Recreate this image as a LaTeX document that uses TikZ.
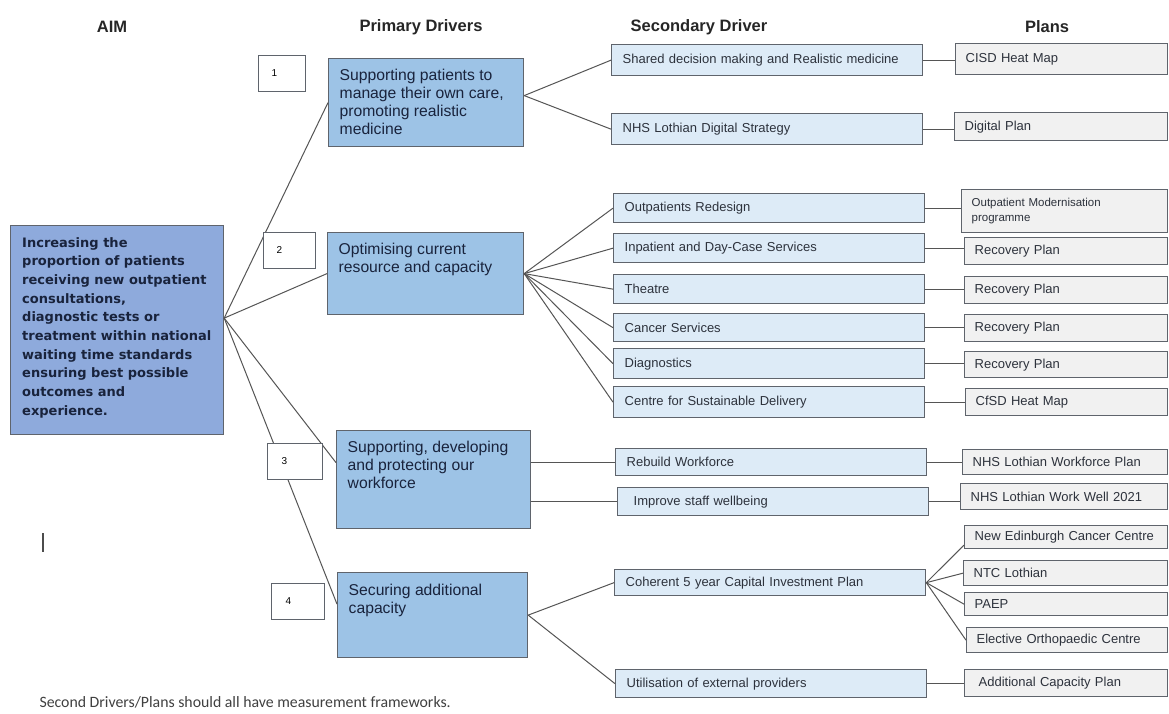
\documentclass[tikz,border=0pt]{standalone}
\usepackage{fontspec}
\setmainfont{Liberation Sans}
\newfontfamily\aimfont{DejaVu Sans}
\newfontfamily\notefont{Carlito}

\definecolor{aimblue}{RGB}{142,170,220}
\definecolor{pblue}{RGB}{157,195,230}
\definecolor{sblue}{RGB}{221,235,247}
\definecolor{plgray}{RGB}{241,241,241}
\definecolor{boxline}{RGB}{95,100,108}
\definecolor{linkgray}{RGB}{85,85,85}
\definecolor{navytext}{RGB}{25,35,60}
\definecolor{darktext}{RGB}{45,50,60}

\tikzset{
  head/.style={font=\bfseries\fontsize{16.5}{19}\selectfont, text=black!85},
  aimbox/.style={draw=boxline, fill=aimblue, line width=1.2pt, anchor=north west},
  aimtxt/.style={anchor=north west, align=left, inner xsep=12pt, inner ysep=12pt, text=navytext, font=\aimfont\bfseries\fontsize{13}{18.7}\selectfont},
  pbox/.style={draw=boxline, fill=pblue, line width=1.2pt, anchor=north west},
  ptxt/.style={anchor=north west, align=left, inner xsep=11.5pt, inner ysep=10.5pt, text=navytext, font=\fontsize{15.7}{18}\selectfont},
  numbox/.style={draw=boxline, fill=white, line width=1pt, anchor=north west, inner xsep=13pt, minimum height=36pt, align=left, font=\fontsize{10}{11}\selectfont},
  sbox/.style={draw=boxline, fill=sblue, line width=1.3pt, anchor=north west, inner xsep=11pt, inner ysep=0pt, text width=289pt, align=left, text=darktext, font=\fontsize{13}{15}\selectfont},
  lbox/.style={draw=boxline, fill=plgray, line width=1.3pt, anchor=north west, inner xsep=10pt, inner ysep=0pt, align=left, text=darktext, font=\fontsize{13}{15}\selectfont},
  link/.style={draw=linkgray, line width=1pt}
}

\begin{document}
\begin{tikzpicture}[x=1pt,y=-1pt]
\useasboundingbox (0,0) rectangle (1169,713);
\fill[white] (0,0) rectangle (1169,713);

% column heads
\node[head] (haim) at (112,27) {AIM};
\node[head] (hprim) at (421,27) {Primary Drivers};
\node[head] (hsec) at (699,27) {Secondary Driver};
\node[head] (hplan) at (1047,27) {Plans};

% aim
\node[aimbox, minimum width=213pt, minimum height=209pt] (aim) at (10,225) {};
\node[aimtxt] (aimt) at (aim.north west) {Increasing the\\
proportion of patients\\
receiving new outpatient\\
consultations,\\
diagnostic tests or\\
treatment within national\\
waiting time standards\\
ensuring best possible\\
outcomes and\\
experience.};

% primary drivers
\node[pbox, minimum width=195pt, minimum height=88pt] (p1) at (328,58) {};
\node[ptxt] (p1t) at (p1.north west) {Supporting patients to\\manage their own care,\\promoting realistic\\medicine};
\node[pbox, minimum width=196pt, minimum height=82pt] (p2) at (327,232) {};
\node[ptxt] (p2t) at (p2.north west) {Optimising current\\resource and capacity};
\node[pbox, minimum width=194pt, minimum height=98pt] (p3) at (336,430) {};
\node[ptxt] (p3t) at (p3.north west) {Supporting, developing\\and protecting our\\workforce};
\node[pbox, minimum width=190pt, minimum height=85pt] (p4) at (337,572) {};
\node[ptxt, inner ysep=12pt] (p4t) at (p4.north west) {Securing additional\\capacity};

% secondary drivers
\foreach \n/\x/\y/\h/\t in {
  s1/611/44/31/Shared decision making and Realistic medicine,
  s2/611/113/31/NHS Lothian Digital Strategy,
  s3/613/193/29/Outpatients Redesign,
  s4/613/233/29/Inpatient and Day-Case Services,
  s5/613/274/29/Theatre,
  s6/613/313/28/Cancer Services,
  s7/613/348/30/Diagnostics,
  s8/613/386/31/Centre for Sustainable Delivery,
  s9/615/448/27/Rebuild Workforce,
  s10/617/487/28/\hspace*{5pt}Improve staff wellbeing,
  s11/614/569/26/Coherent 5 year Capital Investment Plan,
  s12/615/669/28/Utilisation of external providers}
  \node[sbox, minimum height=\h pt] (\n) at (\x,\y) {\t};

% plans
\foreach \n/\x/\y/\h/\t in {
  l1/955/43/31/CISD Heat Map,
  l2/954/112/28/Digital Plan,
  l4/964/237/27/Recovery Plan,
  l5/964/276/27/Recovery Plan,
  l6/964/314/27/Recovery Plan,
  l7/964/351/26/Recovery Plan,
  l8/965/388/27/CfSD Heat Map,
  l9/962/449/25/NHS Lothian Workforce Plan,
  l10/960/483/26/NHS Lothian Work Well 2021,
  l11/964/525/23/New Edinburgh Cancer Centre,
  l12/963/560/25/NTC Lothian,
  l13/964/592/23/PAEP,
  l14/966/627/25/Elective Orthopaedic Centre,
  l15/964/669/27/\hspace*{4pt}Additional Capacity Plan}
{
  \pgfmathsetmacro\tw{1167-\x-20}
  \node[lbox, text width=\tw pt, minimum height=\h pt] (\n) at (\x,\y) {\t};
}
\node[lbox, text width=186pt, minimum height=43pt, font=\fontsize{11.5}{15}\selectfont] (l3) at (961,189) {Outpatient Modernisation\\programme};

% connectors
\coordinate (hub) at ([yshift=12pt]aim.east);
\draw[link] (hub) -- (p1.west);
\draw[link] (hub) -- (p2.west);
\draw[link] (hub) -- ([yshift=17pt]p3.west);
\draw[link] (hub) -- ([yshift=11pt]p4.west);

\foreach \s in {s1,s2}
  \draw[link] ([yshift=7pt]p1.east) -- (\s.west);
\foreach \s in {s3,s4,s5,s6,s7,s8}
  \draw[link] (p2.east) -- (\s.west);
\foreach \s in {s9,s10}
  \draw[link] (\s.west -| p3.east) -- (\s.west);
\foreach \s in {s11,s12}
  \draw[link] (p4.east) -- (\s.west);

\draw[link] (s11.east) -- ([yshift=-8pt]l11.west);
\foreach \l in {l12,l13,l14}
  \draw[link] (s11.east) -- (\l.west);

\foreach \s/\l in {s1/l1,s2/l2,s3/l3,s4/l4,s5/l5,s6/l6,s7/l7,s8/l8,s9/l9,s10/l10,s12/l15}
  \draw[link] (\s.east) -- (\s.east -| \l.west);

% numbers
\node[numbox, text width=21pt] (n1) at (258,55) {1};
\node[numbox, text width=26pt, inner xsep=13pt] (n2) at (263,232) {2};
\node[numbox, text width=27pt, inner xsep=14pt] (n3) at (267,443) {3};
\node[numbox, text width=25pt, inner xsep=14pt] (n4) at (271,583) {4};

% note
\draw[line width=1.6pt, black!70] (43,533) -- (43,552);
\node[anchor=west, text=black!75, font=\notefont\fontsize{15.8}{17}\selectfont] (note) at (36,702) {Second Drivers/Plans should all have measurement frameworks.};
\end{tikzpicture}
\end{document}
